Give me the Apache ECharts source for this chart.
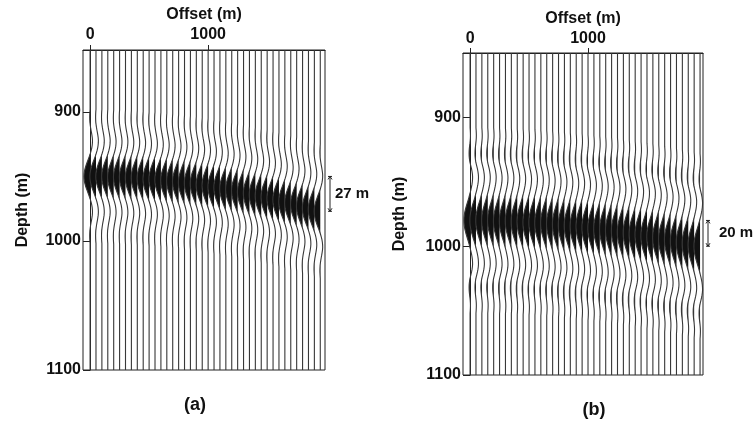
<!DOCTYPE html>
<html>
<head>
<meta charset="utf-8">
<script src="https://cdn.jsdelivr.net/npm/echarts@6/dist/echarts.min.js"></script>
<style>
  html, body { margin: 0; padding: 0; background: #fff; }
  #main { width: 754px; height: 421px; }
</style>
</head>
<body>
<div id="main"></div>
<script>
// trace offsets (m), same for both panels
var offsets = [0, 50, 100, 150, 200, 250, 300, 350, 400, 450, 500, 550, 600, 650, 700, 750,
  800, 850, 900, 950, 1000, 1050, 1100, 1150, 1200, 1250, 1300, 1350, 1400, 1450, 1500,
  1550, 1600, 1650, 1700, 1750, 1800, 1850, 1900, 1950];

// depth (m) of the wavelet centre on each trace
var centreA = [950, 950, 950, 950, 950.5, 950.5, 950.5, 951, 951, 951.5, 952, 952, 952.5, 953,
  953.5, 954, 954.5, 955, 955.5, 956.5, 957, 958, 958.5, 959.5, 960, 961, 962, 963, 964, 965,
  966, 967, 968, 969.5, 970.5, 971.5, 973, 974.5, 975.5, 977];
var centreB = [980, 980, 980, 980, 980, 980.5, 980.5, 980.5, 981, 981, 981.5, 981.5, 982, 982,
  982.5, 983, 983.5, 984, 984.5, 984.5, 985.5, 986, 986.5, 987, 987.5, 988, 989, 989.5, 990.5,
  991, 992, 992.5, 993.5, 994.5, 995, 996, 997, 998, 999, 1000];

// wavelet samples every 2 m, centred (negative = swing to the left, filled)
var waveStep = 2;
var waveA = [0, -0.03, -0.05, -0.06, -0.05, -0.03, 0.02, 0.08, 0.15, 0.23, 0.30, 0.36, 0.39,
  0.38, 0.34, 0.27, 0.17, 0.05, -0.09, -0.24, -0.40, -0.55, -0.70, -0.82, -0.92, -0.98,
  -1.0,
  -0.98, -0.92, -0.82, -0.70, -0.55, -0.40, -0.24, -0.09, 0.05, 0.17, 0.27, 0.34, 0.38,
  0.39, 0.36, 0.30, 0.23, 0.15, 0.08, 0.02, -0.03, -0.05, -0.06, -0.05, -0.03, 0];
var waveB = [0, 0.03, 0.05, 0.06, 0.05, 0.02, -0.02, -0.07, -0.12, -0.15, -0.16, -0.15,
  -0.11, -0.05, 0.04, 0.14, 0.24, 0.32, 0.38, 0.41, 0.40, 0.37, 0.31, 0.23, 0.14, 0.04,
  -0.07, -0.18, -0.30, -0.43, -0.56, -0.68, -0.79, -0.88, -0.95, -0.99,
  -1.0,
  -0.99, -0.95, -0.88, -0.79, -0.68, -0.56, -0.43, -0.30, -0.18, -0.07, 0.04, 0.14, 0.23,
  0.31, 0.37, 0.40, 0.41, 0.38, 0.32, 0.24, 0.14, 0.04, -0.05, -0.11, -0.15, -0.16, -0.15,
  -0.12, -0.07, -0.02, 0.02, 0.05, 0.06, 0.05, 0.03, 0];

var offsetTicks = [0, 1000];
var depthTicks = [900, 1000, 1100];
var moveoutLabels = ['27 m', '20 m'];
var panelLabels = ['(a)', '(b)'];

var font = '"Liberation Sans", Arial, Helvetica, sans-serif';
var gain = 52;

function traceRender(wave, yMin, yMax) {
  return function (params, api) {
    var off = api.value(0), c = api.value(1);
    var half = (wave.length - 1) / 2;
    var line = [api.coord([off, yMin])];
    var fill = [];
    for (var k = 0; k < wave.length; k++) {
      var d = c + (k - half) * waveStep;
      line.push(api.coord([off + gain * wave[k], d]));
      fill.push(api.coord([off + gain * Math.min(wave[k], 0), d]));
    }
    line.push(api.coord([off, yMax]));
    return {
      type: 'group',
      children: [
        { type: 'polygon', shape: { points: fill }, style: { fill: '#111' } },
        { type: 'polyline', shape: { points: line }, style: { stroke: '#383838', lineWidth: 1.1, fill: null } }
      ]
    };
  };
}

function markerRender(label, textGap) {
  return function (params, api) {
    var cs = params.coordSys;
    var x = cs.x + cs.width + 5;
    var y0 = api.coord([0, api.value(0)])[1];
    var y1 = api.coord([0, api.value(1)])[1];
    var st = { stroke: '#222', lineWidth: 1 };
    return {
      type: 'group',
      children: [
        { type: 'line', shape: { x1: x, y1: y0, x2: x, y2: y1 }, style: st },
        { type: 'line', shape: { x1: x - 2, y1: y0, x2: x + 2, y2: y0 }, style: st },
        { type: 'line', shape: { x1: x - 2, y1: y1, x2: x + 2, y2: y1 }, style: st },
        { type: 'polyline', shape: { points: [[x - 2, y0 + 3], [x, y0], [x + 2, y0 + 3]] }, style: { stroke: '#222', lineWidth: 1, fill: null } },
        { type: 'polyline', shape: { points: [[x - 2, y1 - 3], [x, y1], [x + 2, y1 - 3]] }, style: { stroke: '#222', lineWidth: 1, fill: null } },
        { type: 'text', x: x + textGap, y: (y0 + y1) / 2,
          style: { text: label, fill: '#111', font: 'bold 15px ' + font, align: 'left', verticalAlign: 'middle' } }
      ]
    };
  };
}

function plain(v) { return String(v); }

function xAxisFor(idx, min, max, nameGap, labelMargin) {
  return {
    gridIndex: idx, type: 'value', position: 'top', min: min, max: max,
    name: 'Offset (m)', nameLocation: 'middle', nameGap: nameGap,
    nameTextStyle: { fontFamily: font, fontWeight: 'bold', fontSize: 16, color: '#111' },
    axisLine: { show: true, lineStyle: { color: '#222', width: 1 } },
    axisTick: { show: true, customValues: offsetTicks, length: 5, lineStyle: { color: '#222' } },
    axisLabel: { customValues: offsetTicks, formatter: plain, margin: labelMargin, fontFamily: font, fontWeight: 'bold', fontSize: 16, color: '#111' },
    splitLine: { show: false }
  };
}

function yAxisFor(idx, min, max, nameGap) {
  return {
    gridIndex: idx, type: 'value', inverse: true, min: min, max: max,
    name: 'Depth (m)', nameLocation: 'middle', nameGap: nameGap, nameRotate: 90,
    nameTextStyle: { fontFamily: font, fontWeight: 'bold', fontSize: 16, color: '#111' },
    axisLine: { show: true, lineStyle: { color: '#222', width: 1 } },
    axisTick: { show: true, customValues: depthTicks, length: 7, lineStyle: { color: '#222' } },
    axisLabel: { customValues: depthTicks, formatter: plain, margin: 2, fontFamily: font, fontWeight: 'bold', fontSize: 16, color: '#111' },
    splitLine: { show: false }
  };
}

var dataA = offsets.map(function (o, i) { return [o, centreA[i]]; });
var dataB = offsets.map(function (o, i) { return [o, centreB[i]]; });

var yRangeA = [852, 1100];
var yRangeB = [850, 1100];

var option = {
  backgroundColor: '#fff',
  animation: false,
  grid: [
    { left: 83, top: 50, width: 242, height: 320, show: true, borderColor: '#222', borderWidth: 1 },
    { left: 463, top: 53, width: 240, height: 322, show: true, borderColor: '#222', borderWidth: 1 }
  ],
  xAxis: [xAxisFor(0, -60, 1990, 26, 7), xAxisFor(1, -60, 1975, 22, 6)],
  yAxis: [yAxisFor(0, yRangeA[0], yRangeA[1], 52), yAxisFor(1, yRangeB[0], yRangeB[1], 55)],
  graphic: [
    { type: 'text', x: 195, y: 405, style: { text: panelLabels[0], font: 'bold 18px ' + font, fill: '#111', align: 'center', verticalAlign: 'middle' } },
    { type: 'text', x: 594, y: 410, style: { text: panelLabels[1], font: 'bold 18px ' + font, fill: '#111', align: 'center', verticalAlign: 'middle' } }
  ],
  series: [
    { type: 'custom', xAxisIndex: 0, yAxisIndex: 0, data: dataA, renderItem: traceRender(waveA, yRangeA[0], yRangeA[1]) },
    { type: 'custom', xAxisIndex: 1, yAxisIndex: 1, data: dataB, renderItem: traceRender(waveB, yRangeB[0], yRangeB[1]) },
    { type: 'custom', xAxisIndex: 0, yAxisIndex: 0, data: [[centreA[0], centreA[centreA.length - 1]]], renderItem: markerRender(moveoutLabels[0], 5) },
    { type: 'custom', xAxisIndex: 1, yAxisIndex: 1, data: [[centreB[0], centreB[centreB.length - 1]]], renderItem: markerRender(moveoutLabels[1], 11) }
  ]
};

var myChart = echarts.init(document.getElementById('main'));
myChart.setOption(option);
</script>
</body>
</html>
